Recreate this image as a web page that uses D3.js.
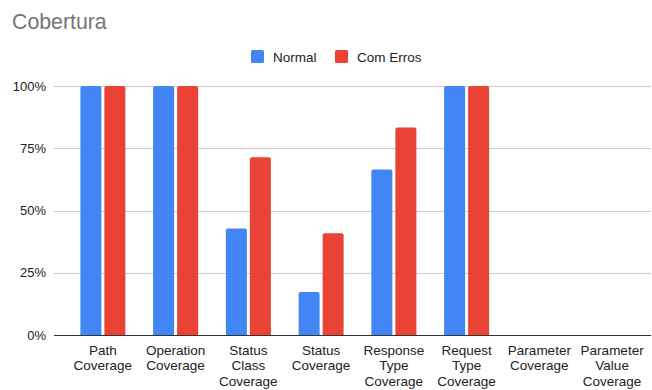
<!DOCTYPE html>
<html><head><meta charset="utf-8">
<script src="https://cdn.jsdelivr.net/npm/d3@7"></script>
<style>body{margin:0;background:#fff}svg{display:block;font-family:"Liberation Sans",Arial,sans-serif}</style>
</head><body><svg id="c" width="652" height="390"></svg>
<script>
const categories = [
  ["Path","Coverage"],
  ["Operation","Coverage"],
  ["Status","Class","Coverage"],
  ["Status","Coverage"],
  ["Response","Type","Coverage"],
  ["Request","Type","Coverage"],
  ["Parameter","Coverage"],
  ["Parameter","Value","Coverage"]
];
const normal = [100, 100, 42.8, 17.3, 66.5, 100, 0, 0];
const comErros = [100, 100, 71.4, 40.9, 83.3, 100, 0, 0];
const seriesNames = ["Normal", "Com Erros"];
const colors = ["#4285f4", "#ea4335"];
const yTicks = [0, 25, 50, 75, 100];

(function() {
const svg = d3.select("#c");
const pLeft = 54, pRight = 651, pTop = 86, pBottom = 335;

const x = d3.scaleBand().domain(d3.range(categories.length)).range([66.5, 648.5]).paddingInner(0).paddingOuter(0);
const y = d3.scaleLinear().domain([0, 100]).range([pBottom, pTop]);

svg.append("text").attr("x", 12).attr("y", 29).attr("font-size", 21.3).attr("fill", "#757575").text("Cobertura");

// gridlines
svg.append("g").selectAll("line").data(yTicks.filter(d => d > 0)).join("line")
  .attr("x1", pLeft).attr("x2", pRight).attr("y1", d => Math.round(y(d)) + 0.5).attr("y2", d => Math.round(y(d)) + 0.5)
  .attr("stroke", "#cccccc").attr("stroke-width", 1);

// y labels
svg.append("g").selectAll("text").data(yTicks).join("text")
  .attr("x", 46).attr("y", d => y(d) + 4.6).attr("text-anchor", "end")
  .attr("font-size", 13).attr("fill", "#222").text(d => d + "%");

// bars
const bw = 21, gap = 3;
const rounded = (x0, y0, w, h, r) => {
  if (h <= 0) return "";
  r = Math.min(r, h, w / 2);
  return `M${x0},${y0 + h}V${y0 + r}Q${x0},${y0} ${x0 + r},${y0}H${x0 + w - r}Q${x0 + w},${y0} ${x0 + w},${y0 + r}V${y0 + h}Z`;
};
[normal, comErros].forEach((vals, si) => {
  svg.append("g").selectAll("path").data(vals).join("path")
    .attr("fill", colors[si])
    .attr("d", (v, i) => {
      const cx = x(i) + x.bandwidth() / 2;
      const x0 = si === 0 ? cx - gap / 2 - bw : cx + gap / 2;
      return rounded(x0, y(v), bw, pBottom - y(v), 2);
    });
});

// baseline
svg.append("line").attr("x1", pLeft).attr("x2", pRight).attr("y1", pBottom + 0.5).attr("y2", pBottom + 0.5)
  .attr("stroke", "#333").attr("stroke-width", 1.2);

// x labels
const xl = svg.append("g").selectAll("text").data(categories).join("text")
  .attr("text-anchor", "middle").attr("font-size", 13.5).attr("fill", "#222");
xl.each(function(lines, i) {
  const cx = x(i) + x.bandwidth() / 2;
  d3.select(this).selectAll("tspan").data(lines).join("tspan")
    .attr("x", cx).attr("y", (d, k) => 354.5 + k * 15.5).text(d => d);
});

// legend
const leg = [{x: 251, tx: 273}, {x: 335, tx: 357}];
seriesNames.forEach((n, i) => {
  svg.append("rect").attr("x", leg[i].x).attr("y", 50).attr("width", 13).attr("height", 13).attr("rx", 1.5).attr("fill", colors[i]);
  svg.append("text").attr("x", leg[i].tx).attr("y", 61.5).attr("font-size", 13.5).attr("fill", "#222").text(n);
});
})();
</script></body></html>
